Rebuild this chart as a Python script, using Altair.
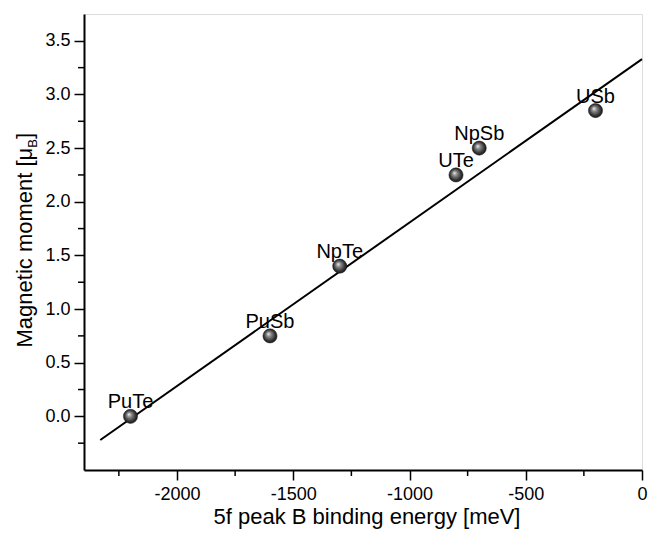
import altair as alt
import pandas as pd

# ---- data ----
compounds = ["PuTe", "PuSb", "NpTe", "UTe", "NpSb", "USb"]
binding_energy = [-2200, -1600, -1300, -800, -700, -200]
magnetic_moment = [0.00, 0.75, 1.40, 2.25, 2.50, 2.85]

fit_energy = [-2330, 0]
fit_moment = [-0.22, 3.33]

x_major = [-2000, -1500, -1000, -500, 0]
x_minor = [-2250, -1750, -1250, -750, -250]
y_major = [0.0, 0.5, 1.0, 1.5, 2.0, 2.5, 3.0, 3.5]
y_minor = [-0.25, 0.25, 0.75, 1.25, 1.75, 2.25, 2.75, 3.25]

x_title = "5f peak B binding energy [meV]"
y_title_main = "Magnetic moment [μ"
y_title_sub = "B"
y_title_end = "]"

FONT = "Liberation Sans"

pts = pd.DataFrame({"name": compounds, "e": binding_energy, "m": magnetic_moment})
fit = pd.DataFrame({"e": fit_energy, "m": fit_moment})
xmin = pd.DataFrame({"e": x_minor})
ymin = pd.DataFrame({"m": y_minor})

xscale = alt.Scale(domain=[-2400, 0], nice=False, zero=False)
yscale = alt.Scale(domain=[-0.5, 3.75], nice=False, zero=False)

xaxis = alt.Axis(
    values=x_major, labelExpr="datum.value == 0 ? '0' : '-' + abs(datum.value)",
    grid=False, tickSize=10, tickWidth=1.5, tickColor="black",
    domainColor="black", domainWidth=2, labelColor="black",
    labelFont=FONT, labelFontSize=18, labelPadding=5, labelFlush=False,
    title=None,
)
yaxis = alt.Axis(
    values=y_major, format=".1f",
    grid=False, tickSize=10, tickWidth=1.5, tickColor="black",
    domainColor="black", domainWidth=2, labelColor="black",
    labelFont=FONT, labelFontSize=18, labelPadding=4, labelFlush=False,
    title=None,
)

X = alt.X("e:Q", scale=xscale, axis=xaxis)
Y = alt.Y("m:Q", scale=yscale, axis=yaxis)

line = alt.Chart(fit).mark_line(color="black", strokeWidth=2).encode(x=X, y=Y)

gradient = alt.RadialGradient(
    gradient="radial",
    stops=[
        alt.GradientStop(offset=0.0, color="#f4f4f4"),
        alt.GradientStop(offset=0.3, color="#8a8a8a"),
        alt.GradientStop(offset=0.75, color="#2e2e2e"),
        alt.GradientStop(offset=1.0, color="#151515"),
    ],
    x1=0.38, y1=0.35, r1=0.0, x2=0.5, y2=0.5, r2=0.55,
)
points = alt.Chart(pts).mark_circle(size=200, fill=gradient, opacity=1, stroke="#111", strokeWidth=0.5).encode(x=X, y=Y)

labels = alt.Chart(pts).mark_text(
    font=FONT, fontSize=20, color="black", dy=-8, baseline="alphabetic", align="center"
).encode(x=X, y=Y, text="name:N")

xminor = alt.Chart(xmin).mark_rule(color="black", strokeWidth=1.5).encode(
    x=X, y=alt.value(456), y2=alt.value(462)
)
yminor = alt.Chart(ymin).mark_rule(color="black", strokeWidth=1.5).encode(
    y=Y, x=alt.value(-6), x2=alt.value(0)
)

one = pd.DataFrame({"k": [0]})
xtitle = alt.Chart(one).mark_text(
    text=x_title, font=FONT, fontSize=22, align="center",
    baseline="alphabetic", color="black"
).encode(x=alt.value(283), y=alt.value(510))
ytitle_main = alt.Chart(one).mark_text(
    text=y_title_main, font=FONT, fontSize=22, angle=270, align="right",
    baseline="alphabetic", color="black"
).encode(x=alt.value(-52), y=alt.value(133.7))
ytitle_sub = alt.Chart(one).mark_text(
    text=y_title_sub, font=FONT, fontSize=13, angle=270, align="left",
    baseline="alphabetic", color="black"
).encode(x=alt.value(-47), y=alt.value(133.7))
ytitle_end = alt.Chart(one).mark_text(
    text=y_title_end, font=FONT, fontSize=22, angle=270, align="left",
    baseline="alphabetic", color="black"
).encode(x=alt.value(-52), y=alt.value(125.0))

chart = alt.layer(
    xminor, yminor, line, points, labels, xtitle, ytitle_main, ytitle_sub, ytitle_end
).properties(
    width=558, height=456,
    autosize=alt.AutoSizeParams(type="none"),
    padding={"left": 76, "top": 6, "right": 6, "bottom": 59},
).configure_view(stroke="black", strokeWidth=2).configure(background="white")

chart.save("out.html", embed_options={"renderer": "svg", "actions": False})
